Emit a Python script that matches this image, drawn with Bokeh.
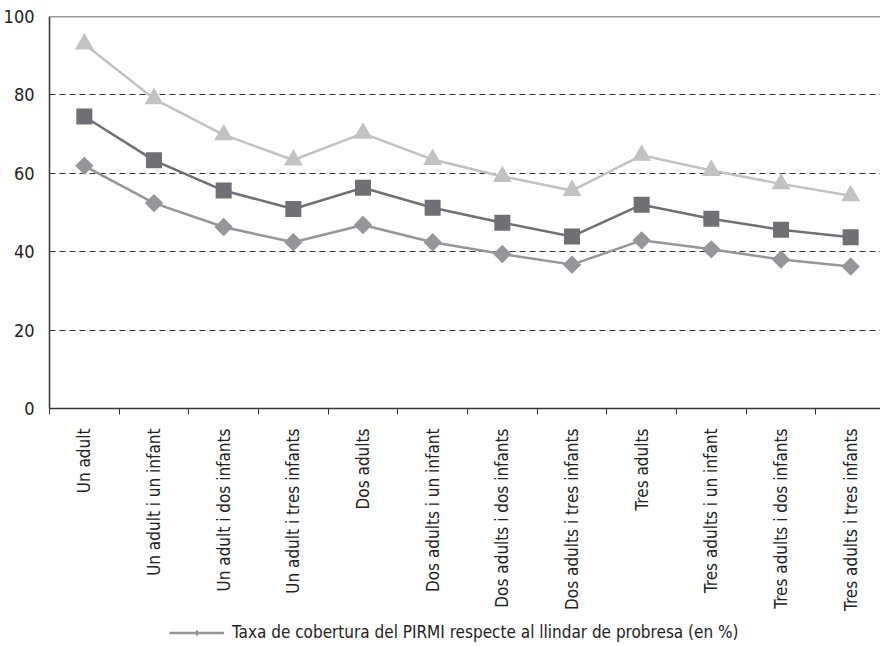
import math
from bokeh.plotting import figure
from bokeh.layouts import column
from bokeh.models import (Range1d, FixedTicker, Legend, LegendItem, Span)
from bokeh.embed import file_html
from bokeh.resources import INLINE

categories = ["Un adult", "Un adult i un infant", "Un adult i dos infants",
              "Un adult i tres infants", "Dos adults", "Dos adults i un infant",
              "Dos adults i dos infants", "Dos adults i tres infants", "Tres adults",
              "Tres adults i un infant", "Tres adults i dos infants",
              "Tres adults i tres infants"]
series_triangle = [93.0, 79.0, 69.8, 63.4, 70.2, 63.5, 59.2, 55.6, 64.6, 60.7, 57.3, 54.3]
series_square = [74.5, 63.3, 55.6, 50.9, 56.3, 51.2, 47.4, 43.9, 52.0, 48.4, 45.6, 43.7]
series_diamond = [61.9, 52.4, 46.3, 42.4, 46.8, 42.4, 39.4, 36.7, 42.9, 40.6, 38.0, 36.2]
legend_label = "Taxa de cobertura del PIRMI respecte al llindar de probresa (en %)"
y_ticks = [0, 20, 40, 60, 80, 100]

FONT = "'Liberation Sans Narrow', 'DejaVu Sans Condensed', 'Roboto', sans-serif"
c_tri, c_sq, c_dia = "#c2c2c4", "#707074", "#96969a"

n = len(categories)
xs = [i + 0.5 for i in range(n)]

# plot area runs past the right edge of the picture in the original
FRAME_W = 832
CAT_W = 69.75
p = figure(width=880, height=616, output_backend="svg", toolbar_location=None,
           x_range=Range1d(0, FRAME_W / CAT_W), y_range=Range1d(0, 100),
           min_border_left=48, min_border_top=16, min_border_right=0,
           min_border_bottom=208)
p.outline_line_color = None
p.background_fill_color = "white"
p.border_fill_color = "white"

# grid
p.xgrid.grid_line_color = None
p.ygrid.ticker = FixedTicker(ticks=[20, 40, 60, 80])
p.ygrid.grid_line_color = "#333333"
p.ygrid.grid_line_dash = "6 4"
p.ygrid.grid_line_width = 1

# top border
p.add_layout(Span(location=100, dimension="width", line_color="#333333", line_width=1.5))

# y axis
p.yaxis.ticker = FixedTicker(ticks=y_ticks)
p.yaxis.major_tick_line_color = None
p.yaxis.major_tick_out = 0
p.yaxis.major_tick_in = 0
p.yaxis.minor_tick_line_color = None
p.yaxis.axis_line_color = "#333333"
p.yaxis.axis_line_width = 1.5
p.yaxis.major_label_text_font = FONT
p.yaxis.major_label_text_font_size = "18px"
p.yaxis.major_label_text_color = "#222222"
p.yaxis.major_label_standoff = 15

# x axis: labels at centres, ticks at boundaries
p.xaxis.ticker = FixedTicker(ticks=xs, minor_ticks=list(range(n + 1)))
p.xaxis.major_label_overrides = {x: c for x, c in zip(xs, categories)}
p.xaxis.major_tick_line_color = None
p.xaxis.major_tick_out = 6
p.xaxis.major_tick_in = 0
p.xaxis.minor_tick_line_color = "#333333"
p.xaxis.minor_tick_out = 6
p.xaxis.minor_tick_in = 0
p.xaxis.axis_line_color = "#333333"
p.xaxis.axis_line_width = 1.5
p.xaxis.major_label_orientation = math.pi / 2
p.xaxis.major_label_text_font = FONT
p.xaxis.major_label_text_font_size = "17px"
p.xaxis.major_label_text_color = "#222222"
p.xaxis.major_label_standoff = 14

# series
p.line(xs, series_triangle, line_color=c_tri, line_width=2.5)
p.scatter(xs, series_triangle, marker="triangle", size=19, fill_color=c_tri, line_color=None)
p.line(xs, series_square, line_color=c_sq, line_width=2.5)
p.scatter(xs, series_square, marker="square", size=16, fill_color=c_sq, line_color=None)
p.line(xs, series_diamond, line_color=c_dia, line_width=2.5)
p.scatter(xs, series_diamond, marker="square", angle=math.pi / 4, size=13,
          fill_color=c_dia, line_color=None)

# legend strip below the chart (its own renderers sit outside its visible range)
lf = figure(width=880, height=30, output_backend="svg", toolbar_location=None,
            x_range=Range1d(-2, -1), y_range=Range1d(-2, -1),
            min_border=0)
lf.axis.visible = False
lf.grid.visible = False
lf.outline_line_color = None
l_dia = lf.line(xs, series_diamond, line_color=c_dia, line_width=2.5)
s_dia = lf.scatter(xs, series_diamond, marker="diamond", size=12,
                   fill_color=c_dia, line_color=None)
legend = Legend(items=[LegendItem(label=legend_label, renderers=[l_dia, s_dia])],
                location=(120, 4), orientation="horizontal",
                border_line_color=None, background_fill_alpha=0,
                label_text_font=FONT, label_text_font_size="17px",
                label_text_color="#222222", glyph_width=55, glyph_height=17,
                label_height=17, padding=0, margin=0, spacing=0, label_standoff=8)
lf.add_layout(legend, "center")

open("out.html", "w").write(file_html(column(p, lf, spacing=0), INLINE))
